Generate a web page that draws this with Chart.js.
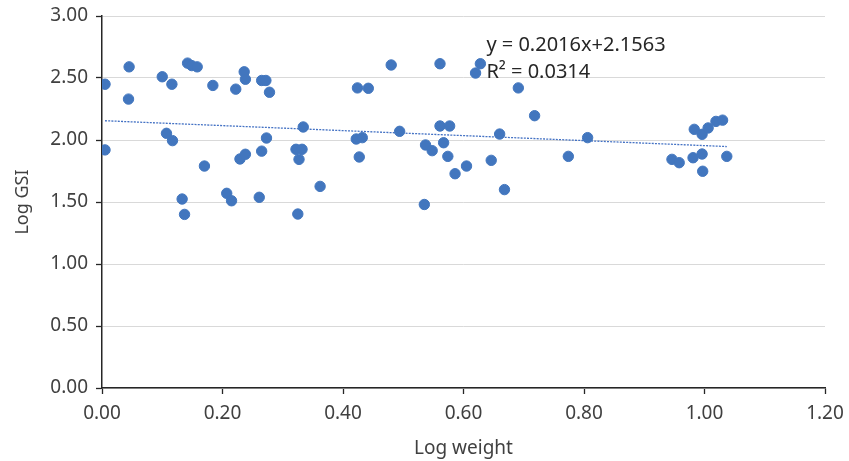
<!DOCTYPE html>
<html>
<head>
<meta charset="utf-8">
<script src="https://cdn.jsdelivr.net/npm/chart.js@4"></script>
<style>
  html, body { margin: 0; padding: 0; background: #fff; }
</style>
</head>
<body>
<canvas id="scatter-chart" width="849" height="461"></canvas>
<script>
// log weight / log GSI pairs
const logWeight = [
    0.005, 0.005, 0.045, 0.044, 0.100, 0.116, 0.142, 0.149, 0.158, 0.184,
    0.222, 0.236, 0.238, 0.265, 0.272, 0.278, 0.107, 0.117, 0.170, 0.133,
    0.137, 0.207, 0.215, 0.229, 0.238, 0.265, 0.273, 0.261, 0.480, 0.561,
    0.628, 0.620, 0.424, 0.442, 0.334, 0.494, 0.561, 0.577, 0.422, 0.432,
    0.322, 0.332, 0.327, 0.427, 0.537, 0.548, 0.567, 0.574, 0.605, 0.586,
    0.362, 0.325, 0.535, 0.691, 0.718, 0.660, 0.806, 0.646, 0.774, 0.668,
    0.946, 0.958, 0.981, 0.996, 0.997, 1.037, 0.983, 0.996, 1.006, 1.019,
    1.030
];
const logGSI = [
    2.45, 1.92, 2.59, 2.33, 2.51, 2.45, 2.62, 2.60, 2.59, 2.44,
    2.41, 2.55, 2.49, 2.48, 2.48, 2.385, 2.054, 1.995, 1.79, 1.524,
    1.40, 1.57, 1.51, 1.847, 1.885, 1.91, 2.016, 1.538, 2.605, 2.615,
    2.615, 2.54, 2.42, 2.417, 2.105, 2.07, 2.113, 2.113, 2.008, 2.019,
    1.925, 1.925, 1.844, 1.863, 1.96, 1.914, 1.978, 1.868, 1.79, 1.728,
    1.626, 1.403, 1.48, 2.42, 2.196, 2.048, 2.019, 1.836, 1.868, 1.60,
    1.844, 1.817, 1.857, 1.887, 1.748, 1.868, 2.086, 2.046, 2.097, 2.15,
    2.16
];

// linear trend
const trendSlope = -0.2016;
const trendIntercept = 2.1563;
const trendText = ['y = 0.2016x+2.1563', 'R² = 0.0314'];

const xTicks = [0, 0.2, 0.4, 0.6, 0.8, 1.0, 1.2];
const yTicks = [0, 0.5, 1.0, 1.5, 2.0, 2.5, 3.0];

const FONT = "'Noto Sans', 'Open Sans', sans-serif";

const points = logWeight.map((x, i) => ({ x: x, y: logGSI[i] }));
const xMin = Math.min(...logWeight);
const xMax = Math.max(...logWeight);
const trendPoints = [
    { x: xMin, y: trendIntercept + trendSlope * xMin },
    { x: xMax, y: trendIntercept + trendSlope * xMax },
];

// equation + R² text next to the trend line
const trendLabel = {
    id: 'trendLabel',
    afterDatasetsDraw(chart) {
        const { ctx, scales } = chart;
        const px = scales.x.getPixelForValue(0.638);
        const py = scales.y.getPixelForValue(2.718);
        ctx.save();
        ctx.fillStyle = '#262626';
        ctx.font = '20px ' + FONT;
        ctx.textBaseline = 'alphabetic';
        ctx.fillText(trendText[0], px, py);
        ctx.fillText(trendText[1], px, py + 27);
        ctx.restore();
    }
};

new Chart(document.querySelector('#scatter-chart'), {
    type: 'scatter',
    data: {
        datasets: [
            {
                label: 'Log GSI',
                data: points,
                backgroundColor: '#4276be',
                borderColor: '#4276be',
                pointRadius: 5.2,
                pointHoverRadius: 5.2,
            },
            {
                type: 'line',
                label: 'trend',
                data: trendPoints,
                borderColor: '#4472c4',
                borderWidth: 1.3,
                borderDash: [2, 1.2],
                pointRadius: 0,
                fill: false,
            },
        ]
    },
    options: {
        responsive: false,
        animation: false,
        devicePixelRatio: 1,
        layout: { padding: { top: 16, right: 24, left: 0, bottom: 0 } },
        plugins: {
            legend: { display: false },
            tooltip: { enabled: false },
        },
        scales: {
            x: {
                type: 'linear',
                min: 0, max: 1.2,
                afterBuildTicks: (s) => { s.ticks = xTicks.map(v => ({ value: v })); },
                afterFit: (s) => { s.height = 73; s.paddingLeft = 0; s.paddingRight = 0; },
                grid: { drawOnChartArea: false, drawTicks: true, tickLength: 6, tickColor: '#262626', tickWidth: 1.3 },
                border: { color: '#262626', width: 1.5 },
                ticks: {
                    color: '#404040',
                    font: { family: FONT, size: 19 },
                    padding: 8,
                    callback: (v) => v.toFixed(2),
                },
                title: {
                    display: true,
                    text: 'Log weight',
                    color: '#404040',
                    font: { family: FONT, size: 19 },
                    padding: { top: 0, bottom: 1 },
                },
            },
            y: {
                type: 'linear',
                min: 0, max: 3,
                afterBuildTicks: (s) => { s.ticks = yTicks.map(v => ({ value: v })); },
                afterFit: (s) => { s.width = 102; s.paddingTop = 0; s.paddingBottom = 0; },
                grid: { color: '#d9d9d9', lineWidth: 1, drawTicks: true, tickLength: 6, tickColor: '#262626', tickWidth: 1.3 },
                border: { color: '#262626', width: 1.5 },
                ticks: {
                    color: '#404040',
                    font: { family: FONT, size: 19 },
                    padding: 8,
                    callback: (v) => v.toFixed(2),
                },
                title: {
                    display: true,
                    text: 'Log GSI',
                    color: '#404040',
                    font: { family: FONT, size: 18 },
                    padding: { top: 12, bottom: 0 },
                },
            }
        }
    },
    plugins: [trendLabel],
});
</script>
</body>
</html>
